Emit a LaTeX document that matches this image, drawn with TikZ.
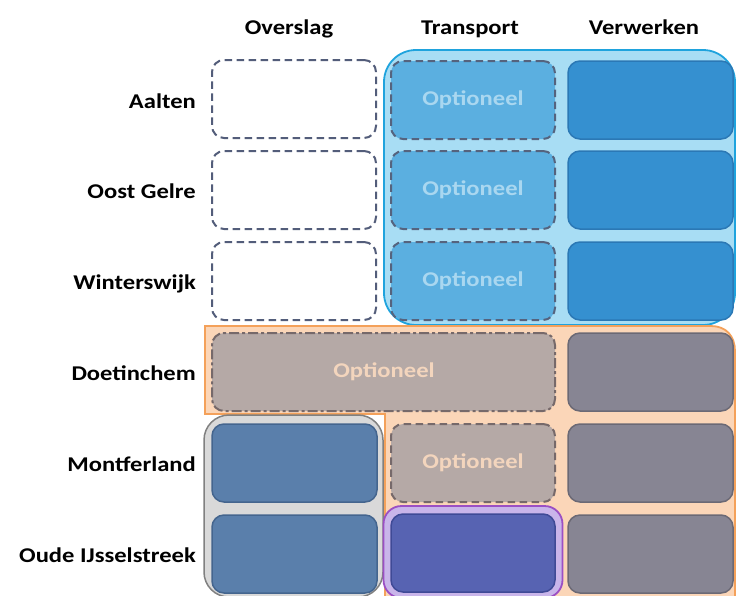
\documentclass[tikz,border=0pt]{standalone}
\usepackage{fontspec}
\setmainfont{Carlito}[FakeStretch=1.17]
\definecolor{bluecont}{HTML}{A8DDF4}
\definecolor{blueedge}{HTML}{1FA3DD}
\definecolor{optblue}{HTML}{5BAFE0}
\definecolor{optblueedge}{HTML}{55637E}
\definecolor{opttxtblue}{HTML}{A9D7F0}
\definecolor{verblue}{HTML}{3590D0}
\definecolor{verblueedge}{HTML}{2B78B5}
\definecolor{dashedge}{HTML}{535D7A}
\definecolor{orfill}{HTML}{FBD6B8}
\definecolor{oredge}{HTML}{F4A15A}
\definecolor{optgray}{HTML}{B5A9A6}
\definecolor{optgrayedge}{HTML}{76696A}
\definecolor{opttxtor}{HTML}{F3D5BD}
\definecolor{vergray}{HTML}{878593}
\definecolor{vergrayedge}{HTML}{6B6975}
\definecolor{grfill}{HTML}{D9D9D9}
\definecolor{gredge}{HTML}{808080}
\definecolor{steel}{HTML}{5A7FAB}
\definecolor{steeledge}{HTML}{44658E}
\definecolor{purfill}{HTML}{C9B5EA}
\definecolor{puredge}{HTML}{9B4FC4}
\definecolor{indigo}{HTML}{5763B2}
\definecolor{indigoedge}{HTML}{3F4A96}
\begin{document}
\begin{tikzpicture}[x=1pt,y=-1pt,
  lbl/.style={font=\fontsize{21}{24}\selectfont\bfseries, text=black, inner sep=0pt},
  cell/.style={rectangle, rounded corners=12pt, minimum width=164pt, minimum height=78pt, inner sep=0pt, line width=1.5pt, font=\fontsize{21}{24}\selectfont\bfseries},
  emptycell/.style={cell, draw=dashedge, line width=2pt, dash pattern=on 7.5pt off 4.5pt, fill=white},
  optb/.style={cell, draw=optblueedge, line width=2pt, dash pattern=on 7.5pt off 4.5pt, fill=optblue, text=opttxtblue},
  verb/.style={cell, draw=verblueedge, fill=verblue},
  optg/.style={cell, draw=optgrayedge, line width=2pt, dash pattern=on 7.5pt off 4.5pt, fill=optgray, text=opttxtor},
  optgdd/.style={cell, draw=optgrayedge, line width=2pt, dash pattern=on 10pt off 3pt on 3pt off 3pt, fill=optgray, text=opttxtor},
  verg/.style={cell, draw=vergrayedge, fill=vergray},
  stl/.style={cell, draw=steeledge, fill=steel},
  ind/.style={cell, draw=indigoedge, fill=indigo}
]
\useasboundingbox (0,0) rectangle (736,595);
% headers
\node[lbl, anchor=base] (h1) at (289,34) {Overslag};
\node[lbl, anchor=base] (h2) at (470,34) {Transport};
\node[lbl, anchor=base] (h3) at (644,34) {Verwerken};
% row labels
\node[lbl, anchor=base east] (r1) at (196,108) {Aalten};
\node[lbl, anchor=base east] (r2) at (196,198) {Oost Gelre};
\node[lbl, anchor=base east] (r3) at (196,289) {Winterswijk};
\node[lbl, anchor=base east] (r4) at (196,380) {Doetinchem};
\node[lbl, anchor=base east] (r5) at (196,471) {Montferland};
\node[lbl, anchor=base east] (r6) at (196,562) {Oude IJsselstreek};
% containers
\draw[draw=blueedge, fill=bluecont, line width=1.8pt, rounded corners=32pt] (384,50) rectangle (735,325);
\draw[draw=oredge, fill=orfill, line width=1.8pt] (205,326) -- (711,326) .. controls (726,326) and (735,336) .. (735,351) -- (735,600) -- (385,600) -- (385,414) -- (205,414) -- cycle;
\node[draw=gredge, fill=grfill, line width=1.5pt, rounded corners=25pt, minimum width=179pt, minimum height=182pt, inner sep=0pt] (grc) at (293.5,506) {};
\node[draw=puredge, fill=purfill, line width=1.8pt, rounded corners=18pt, minimum width=179pt, minimum height=92pt, inner sep=0pt] (puc) at (473,552) {};
% Overslag column
\node[emptycell] (o1) at (294,99) {};
\node[emptycell] (o2) at (294,190) {};
\node[emptycell] (o3) at (294,281) {};
\node[optgdd, minimum width=343pt] (o4) at (383.5,372) {\hspace*{1pt}Optioneel};
\node[stl, minimum width=165pt] (o5) at (294.5,463) {};
\node[stl, minimum width=165pt] (o6) at (294.5,554) {};
% Transport column
\node[optb] (t1) at (473,100) {Optioneel};
\node[optb] (t2) at (473,190) {Optioneel};
\node[optb] (t3) at (473,281) {Optioneel};
\node[optg] (t5) at (473,463) {Optioneel};
\node[ind] (t6) at (473,553) {};
% Verwerken column
\node[verb, minimum width=165pt] (v1) at (650.5,100) {};
\node[verb, minimum width=165pt] (v2) at (650.5,190) {};
\node[verb, minimum width=165pt] (v3) at (650.5,281) {};
\node[verg, minimum width=165pt] (v4) at (650.5,372) {};
\node[verg, minimum width=165pt] (v5) at (650.5,463) {};
\node[verg, minimum width=165pt] (v6) at (650.5,554) {};
\end{tikzpicture}
\end{document}
